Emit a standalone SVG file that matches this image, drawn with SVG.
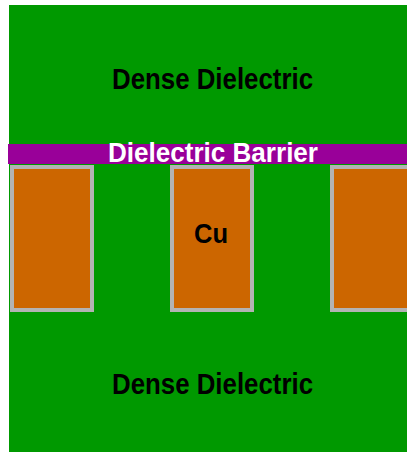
<svg xmlns="http://www.w3.org/2000/svg" width="407" height="452" viewBox="0 0 407 452">
<style>
.cu{fill:#CC6600;stroke:#B3B3B3;stroke-width:4}
.t{font-family:"Liberation Sans",Arial,sans-serif;font-weight:bold;text-anchor:middle}
</style>
<rect width="407" height="452" fill="#ffffff"/>
<g id="dielectric">
<rect x="9" y="5" width="398" height="447" fill="#009900"/>
<text class="t" x="212.5" y="89" font-size="29.5" fill="#000000" textLength="201" lengthAdjust="spacingAndGlyphs">Dense Dielectric</text>
<text class="t" x="212.5" y="394" font-size="29.5" fill="#000000" textLength="201" lengthAdjust="spacingAndGlyphs">Dense Dielectric</text>
</g>
<g id="barrier">
<rect x="8" y="144" width="399" height="20" fill="#990099"/>
<text class="t" x="213" y="162" font-size="27" fill="#ffffff" textLength="210" lengthAdjust="spacingAndGlyphs">Dielectric Barrier</text>
</g>
<g id="cu-left"><rect class="cu" x="12" y="167" width="80" height="143"/></g>
<g id="cu-mid"><rect class="cu" x="172" y="167" width="80" height="143"/>
<text class="t" x="211" y="243" font-size="27" fill="#000000" textLength="34" lengthAdjust="spacingAndGlyphs">Cu</text></g>
<g id="cu-right"><rect class="cu" x="332" y="167" width="80" height="143"/></g>
</svg>
